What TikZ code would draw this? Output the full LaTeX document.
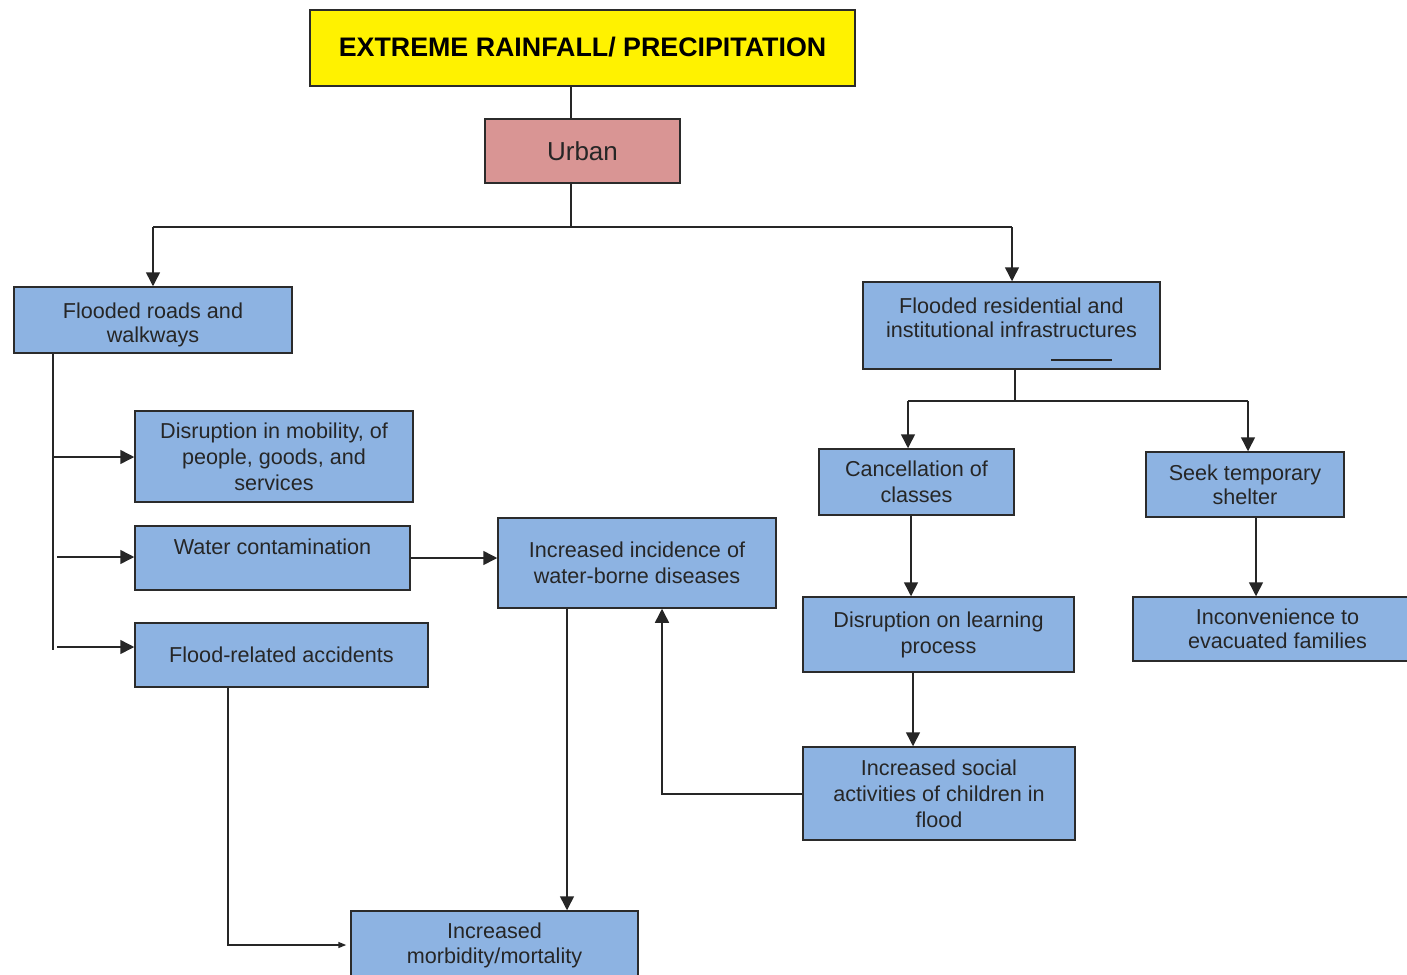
\documentclass[tikz,border=0pt]{standalone}
\usepackage{fontspec}
\setmainfont{Liberation Sans}
\usetikzlibrary{arrows.meta}
\definecolor{boxblue}{HTML}{8DB3E2}
\definecolor{urbanred}{HTML}{D99594}
\definecolor{edgecol}{HTML}{2B2B2B}
\begin{document}
\begin{tikzpicture}[x=0.5pt,y=-0.5pt,
  box/.style={draw=edgecol, line width=0.75pt, fill=boxblue, inner sep=0pt, align=center,
    text=black!85, font=\fontsize{10.8}{13}\selectfont},
  conn/.style={draw=black!85, line width=0.75pt},
  arr/.style={conn, -{Triangle[length=7pt,width=7pt]}}]
\clip (0,0) rectangle (1407,974);
\fill[white] (0,0) rectangle (1407,974);

% nodes
\node[box, fill=yellow, text=black, minimum width=272.5pt, minimum height=38pt,
  font=\fontsize{13.4}{15}\selectfont\bfseries] (title) at (582.5,48) {\raisebox{0.5pt}[\height][\depth]{EXTREME RAINFALL/ PRECIPITATION}};
\node[box, fill=urbanred, minimum width=97.5pt, minimum height=32pt,
  font=\fontsize{13}{15}\selectfont] (urban) at (582.5,151) {Urban};
\node[box, minimum width=139pt, minimum height=33pt] (roads) at (153,320)
  {\raisebox{-2.5pt}[\height][\depth]{\shortstack{Flooded roads and\\[1pt]walkways}}};
\node[box, minimum width=148.5pt, minimum height=43.5pt] (res) at (1011.5,325.5)
  {\raisebox{3.75pt}[\height][\depth]{\shortstack{Flooded residential and\\[1pt]institutional infrastructures}}};
\node[box, minimum width=139pt, minimum height=45.5pt] (mob) at (274,456.5) {Disruption in mobility, of\\people, goods, and\\services};
\node[box, minimum width=137.5pt, minimum height=32pt] (water) at (272.5,558)
  {\raisebox{5.5pt}[\height][\depth]{Water contamination}};
\node[box, minimum width=146.5pt, minimum height=32pt] (acc) at (281.5,655) {Flood-related accidents};
\node[box, minimum width=139pt, minimum height=45pt] (inc) at (637,563) {Increased incidence of\\water-borne diseases};
\node[box, minimum width=97.5pt, minimum height=33pt] (canc) at (916.5,482) {Cancellation of\\classes};
\node[box, minimum width=99pt, minimum height=32.5pt, font=\fontsize{10.8}{11.8}\selectfont] (seek) at (1245,484.5) {Seek temporary\\shelter};
\node[box, minimum width=135.5pt, minimum height=37.5pt] (learn) at (938.5,634.5) {Disruption on learning\\process};
\node[box, minimum width=144.5pt, minimum height=32pt, font=\fontsize{10.8}{12}\selectfont] (inconv) at (1277.5,629) {Inconvenience to\\evacuated families};
\node[box, minimum width=136pt, minimum height=46.5pt] (social) at (939,793.5) {Increased social\\activities of children in\\flood};
\node[box, minimum width=143.5pt, minimum height=34.5pt, font=\fontsize{10.8}{12.5}\selectfont] (morb) at (494.5,945.5) {Increased\\morbidity/mortality};

% small line inside residential box
\draw[conn] ([shift={(189,-10)}]res.south west) -- ++(61,0);

% coordinates
\coordinate (c1) at (571,227);
\coordinate (jl) at (153,227);
\coordinate (jr) at (1012,227);
\coordinate (lv) at (53,650);
\coordinate (a1) at (53,457);
\coordinate (a2) at (57,557);
\coordinate (a3) at (57,647);
\coordinate (rj) at (1015,401);
\coordinate (rl) at (908,401);
\coordinate (rr) at (1248,401);
\coordinate (x1) at (911,0);
\coordinate (x2) at (1256,0);
\coordinate (x3) at (913,0);
\coordinate (sb) at (662,794);
\coordinate (x4) at (567,0);
\coordinate (ab) at (228,945);

% connectors
\draw[conn] (title.south -| c1) -- (urban.north -| c1);
\draw[conn] (urban.south -| c1) -- (c1);
\draw[conn] (jl) -- (jr);
\draw[arr] (jl) -- (roads.north -| jl);
\draw[arr] (jr) -- (res.north -| jr);

\draw[conn] (roads.south -| lv) -- (lv);
\draw[arr] (a1) -- (mob.west |- a1);
\draw[arr] (a2) -- (water.west |- a2);
\draw[arr] (a3) -- (acc.west |- a3);

\draw[arr] (water.east) -- (inc.west |- water.east);

\draw[conn] (res.south -| rj) -- (rj);
\draw[conn] (rl) -- (rr);
\draw[arr] (rl) -- (canc.north -| rl);
\draw[arr] (rr) -- (seek.north -| rr);

\draw[arr] (canc.south -| x1) -- (learn.north -| x1);
\draw[arr] (seek.south -| x2) -- (inconv.north -| x2);
\draw[arr] (learn.south -| x3) -- (social.north -| x3);

\draw[arr] (social.west |- sb) -- (sb) -- (inc.south -| sb);
\draw[arr] (inc.south -| x4) -- (morb.north -| x4);
\draw[conn, -{Triangle[length=4pt,width=3pt]}, shorten >=2pt] (acc.south -| ab) -- (ab) -- (morb.west |- ab);
\end{tikzpicture}
\end{document}
